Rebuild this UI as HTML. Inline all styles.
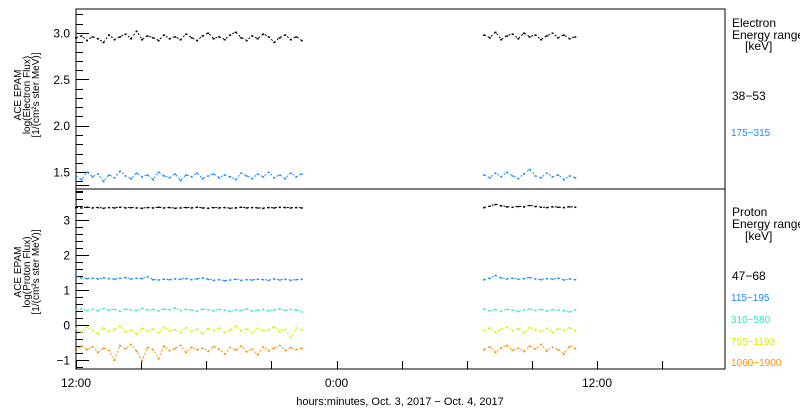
<!DOCTYPE html>
<html><head><meta charset="utf-8"><style>
body{margin:0;background:#fff;width:800px;height:410px;overflow:hidden}
svg{display:block;font-family:"Liberation Sans",sans-serif}
</style></head><body>
<svg id="c" width="800" height="410" viewBox="0 0 800 410"></svg>
<script>
const tickLabelsTop=["1.5","2.0","2.5","3.0"];
const tickLabelsBot=["-1","0","1","2","3"];
const xTickLabels=["12:00","0:00","12:00"];
const seg1Count=42, seg2Count=17;
const seg1Start=0, seg1End=10.4, seg2Start=18.8, seg2End=23.0;
const e1=[2.95,2.97,2.92,2.96,2.94,2.90,2.98,2.93,2.96,2.99,2.94,3.02,2.93,2.97,2.95,2.92,2.98,2.94,2.96,2.93,2.99,2.95,2.92,2.97,3.00,2.94,2.96,2.93,2.98,3.01,2.95,2.92,2.97,2.94,2.99,2.96,2.90,2.95,2.98,2.93,2.96,2.92,
 2.98,2.95,3.01,2.93,2.97,2.99,2.94,3.00,2.96,2.98,2.93,2.97,3.00,2.95,2.98,2.94,2.96];
const e2=[1.46,1.42,1.50,1.45,1.48,1.40,1.47,1.44,1.51,1.46,1.43,1.49,1.45,1.47,1.42,1.50,1.46,1.44,1.48,1.41,1.47,1.45,1.49,1.43,1.46,1.48,1.44,1.47,1.45,1.42,1.49,1.46,1.43,1.48,1.45,1.50,1.44,1.47,1.43,1.49,1.45,1.48,
 1.47,1.44,1.49,1.45,1.50,1.46,1.43,1.48,1.53,1.46,1.44,1.49,1.45,1.47,1.42,1.46,1.44];
const p1=[3.36,3.35,3.37,3.35,3.36,3.34,3.36,3.35,3.37,3.35,3.36,3.35,3.34,3.36,3.35,3.37,3.35,3.36,3.34,3.35,3.36,3.35,3.37,3.35,3.34,3.36,3.35,3.36,3.34,3.35,3.37,3.35,3.36,3.35,3.34,3.36,3.35,3.37,3.36,3.35,3.36,3.35,
 3.36,3.40,3.45,3.41,3.38,3.37,3.39,3.38,3.42,3.39,3.37,3.36,3.38,3.37,3.36,3.38,3.37];
const p2=[1.38,1.35,1.33,1.34,1.32,1.35,1.33,1.31,1.34,1.36,1.32,1.34,1.33,1.38,1.30,1.29,1.31,1.30,1.32,1.31,1.33,1.30,1.32,1.35,1.31,1.28,1.30,1.27,1.29,1.31,1.28,1.30,1.29,1.31,1.30,1.28,1.32,1.29,1.31,1.28,1.30,1.31,
 1.30,1.34,1.42,1.35,1.32,1.34,1.31,1.33,1.36,1.32,1.30,1.33,1.31,1.34,1.29,1.32,1.30];
const p3=[0.44,0.46,0.42,0.45,0.41,0.47,0.43,0.45,0.40,0.46,0.44,0.42,0.48,0.43,0.45,0.41,0.46,0.44,0.49,0.42,0.45,0.43,0.40,0.46,0.44,0.41,0.45,0.43,0.39,0.44,0.42,0.46,0.40,0.43,0.45,0.41,0.44,0.46,0.42,0.45,0.43,0.38,
 0.46,0.41,0.44,0.40,0.45,0.43,0.39,0.44,0.46,0.42,0.45,0.40,0.44,0.43,0.41,0.38,0.44];
const p4=[-0.10,-0.20,-0.05,-0.15,-0.25,-0.08,-0.18,-0.12,-0.02,-0.20,-0.14,-0.26,-0.09,-0.17,-0.11,-0.22,-0.06,-0.16,-0.13,-0.21,-0.07,-0.18,-0.12,-0.24,-0.10,-0.15,-0.08,-0.20,-0.14,-0.03,-0.17,-0.11,-0.22,-0.09,-0.16,-0.13,-0.05,-0.19,-0.12,-0.35,-0.08,-0.14,
 -0.15,-0.08,-0.20,-0.12,-0.05,-0.17,-0.10,-0.22,-0.06,-0.14,-0.18,-0.09,-0.21,-0.11,-0.15,-0.07,-0.16];
const p5=[-0.75,-0.60,-0.70,-0.62,-0.78,-0.66,-0.72,-1.00,-0.58,-0.68,-0.55,-0.74,-1.02,-0.64,-0.70,-0.96,-0.60,-0.73,-0.67,-0.58,-0.78,-0.63,-0.70,-0.66,-0.75,-0.61,-0.69,-0.82,-0.64,-0.71,-0.60,-0.76,-0.68,-0.85,-0.62,-0.73,-0.66,-0.58,-0.72,-0.64,-0.70,-0.66,
 -0.70,-0.62,-0.78,-0.65,-0.58,-0.72,-0.66,-0.75,-0.60,-0.68,-0.55,-0.74,-0.63,-0.70,-0.82,-0.61,-0.67];

const S=document.getElementById('c'),NS='http://www.w3.org/2000/svg';
function el(t,a,p){const e=document.createElementNS(NS,t);for(const k in a)e.setAttribute(k,a[k]);(p||S).appendChild(e);return e;}
const X0=76,X1=725;
const xs=h=>X0+h*(521/24);
const yTop=v=>33+(3.0-v)*92.7;
const yBot=v=>325-v*35;
const times=[];
for(let i=0;i<seg1Count;i++)times.push(seg1Start+i*(seg1End-seg1Start)/(seg1Count-1));
for(let i=0;i<seg2Count;i++)times.push(seg2Start+i*(seg2End-seg2Start)/(seg2Count-1));

let r=el('rect',{x:X0,y:9,width:X1-X0,height:180,fill:'none',stroke:'#000','stroke-width':1});

r=el('rect',{x:X0,y:189,width:X1-X0,height:180,fill:'none',stroke:'#000','stroke-width':1});


function yAxis(fn,lo,hi,step,majorEvery,labels,labVals,name){
  const g=el('g',{});
  const n=Math.round((hi-lo)/step);
  for(let i=0;i<=n;i++){const v=lo+i*step;const y=Math.round(fn(v))+0.5;if(y<9||y>369)continue;
    const maj=Math.abs(v/majorEvery-Math.round(v/majorEvery))<1e-6;
    el('line',{x1:X0,x2:X0+(maj?13:7),y1:y,y2:y,stroke:'#000'},g);}
  labels.forEach((l,i)=>{const t=el('text',{x:70,y:fn(labVals[i])+4.5,'text-anchor':'end','font-size':12},g);t.textContent=l.replace('-','\u2212');
    });
}
yAxis(yTop,1.3,3.3,0.1,0.5,tickLabelsTop,tickLabelsTop.map(Number),'electron-y-axis');
yAxis(yBot,-1.4,4.0,0.2,1,tickLabelsBot,tickLabelsBot.map(Number),'proton-y-axis');

const gx=el('g',{});
for(let h=0;h<=30;h+=3){const x=Math.round(xs(h))+0.5;if(x>X1)continue;el('line',{x1:x,x2:x,y1:369,y2:361,stroke:'#000'},gx);}
xTickLabels.forEach((l,i)=>{const t=el('text',{x:xs(i*12),y:387,'text-anchor':'middle','font-size':12},gx);t.textContent=l;
  });
let t=el('text',{x:400,y:405,'text-anchor':'middle','font-size':11});t.textContent='hours:minutes, Oct.  3, 2017 \u2212 Oct.  4, 2017';
t.setAttribute('xml:space','preserve');

function ytitle(lines,cy,name){const g=el('g',{transform:`translate(28,${cy}) rotate(-90)`});
  lines.forEach((l,i)=>{const tt=el('text',{x:0,y:-7+i*9,'text-anchor':'middle','font-size':10},g);tt.textContent=l;});}
ytitle(['ACE EPAM','log(Electron Flux)','[1/(cm\u00b2s ster MeV)]'],95,'electron-y-title');
ytitle(['ACE EPAM','log(Proton Flux)','[1/(cm\u00b2s ster MeV)]'],272,'proton-y-title');

function series(vals,fn,color,name){
  const g=el('g',{});
  [[0,seg1Count],[seg1Count,seg1Count+seg2Count]].forEach(([a,b])=>{
    let pts=[];for(let i=a;i<b;i++)pts.push(xs(times[i]).toFixed(1)+','+fn(vals[i]).toFixed(1));
    el('polyline',{points:pts.join(' '),fill:'none',stroke:color,'stroke-width':1,'stroke-dasharray':'2 2'},g);
    for(let i=a;i<b;i++){const p=el('rect',{x:xs(times[i])-1,y:fn(vals[i])-0.5,width:2,height:1.5,fill:color},g);
      }
  });
}
series(e1,yTop,'#000','series-electron-38-53');
series(e2,yTop,'#1e88ff','series-electron-175-315');
series(p1,yBot,'#000','series-proton-47-68');
series(p2,yBot,'#1e88ff','series-proton-115-195');
series(p3,yBot,'#30e8c8','series-proton-310-580');
series(p4,yBot,'#d8f000','series-proton-795-1193');
series(p5,yBot,'#ff8c00','series-proton-1060-1900');

function lt(x,y,s,c,fs,name){const e=el('text',{x:x,y:y,'font-size':fs,fill:c});e.textContent=s;}
lt(732,27,'Electron','#000',12,'legend-electron-title');
lt(732,39,'Energy range','#000',12,'legend-energy-range');
lt(745,50,'[keV]','#000',12,'legend-kev');
lt(732,100,'38\u221253','#000',12,'legend-entry-38-53');
lt(731,136,'175\u2212315','#1e88ff',10,'legend-entry-175-315');
lt(732,216,'Proton','#000',12,'legend-proton-title');
lt(732,228,'Energy range','#000',12,'legend-energy-range');
lt(745,240,'[keV]','#000',12,'legend-kev');
lt(732,280,'47\u221268','#000',12,'legend-entry-47-68');
lt(731,301,'115\u2212195','#1e88ff',10,'legend-entry-115-195');
lt(731,323,'310\u2212580','#30e8c8',10,'legend-entry-310-580');
lt(731,345,'795\u22121193','#d8f000',10,'legend-entry-795-1193');
lt(731,366,'1060\u22121900','#ff8c00',10,'legend-entry-1060-1900');
</script>
</body></html>
